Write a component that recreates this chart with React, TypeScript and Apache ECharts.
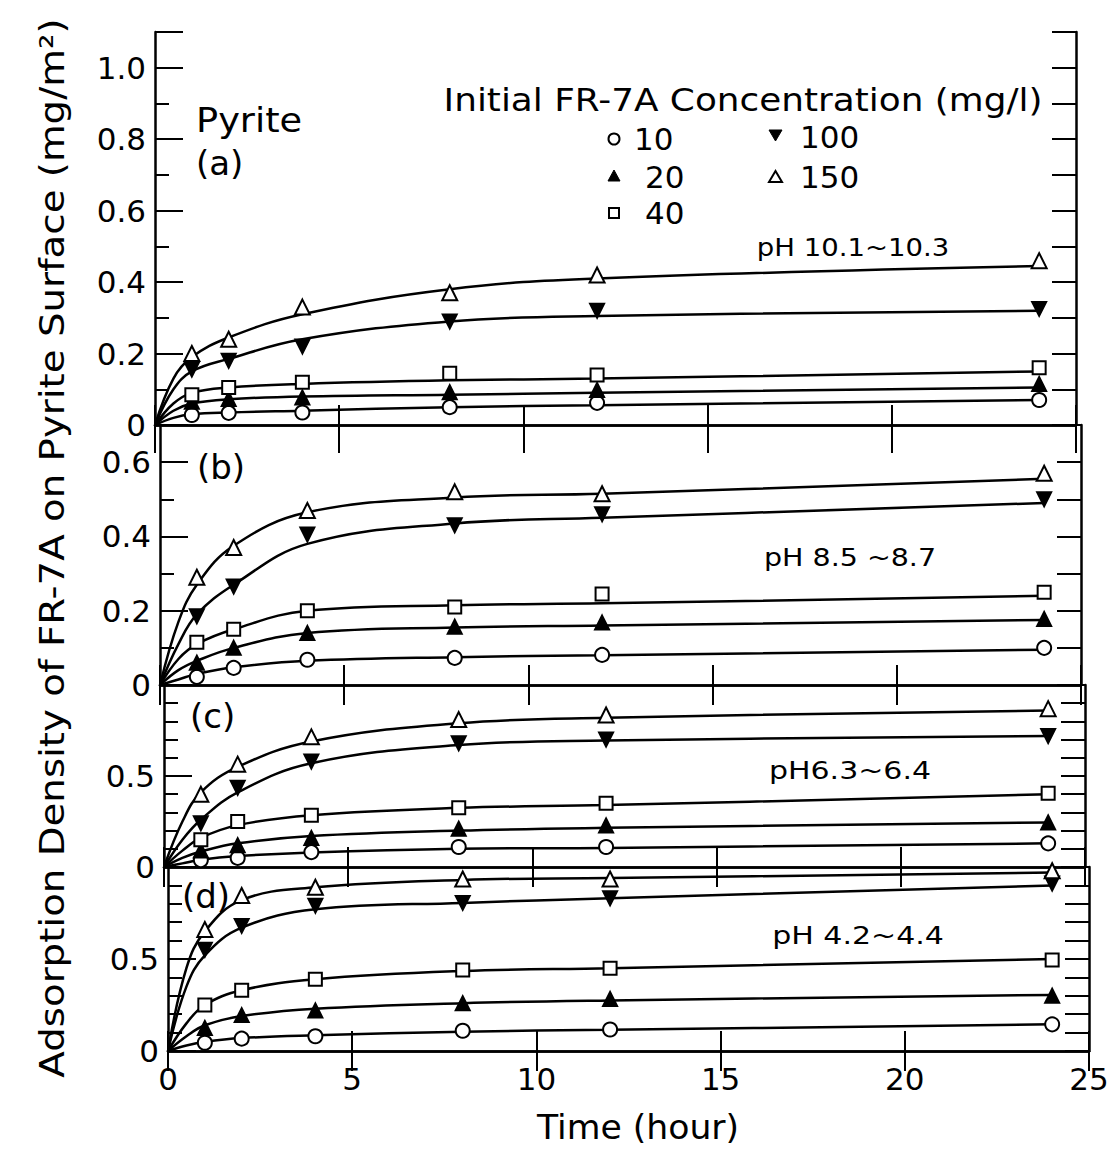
import React, { useEffect, useRef } from "react";
import * as echarts from "echarts";

// ---------- data ----------
const times = [1, 2, 4, 8, 12, 24];            // measurement times (hour)
const curveTimes = [0, 0.5, 1, 2, 4, 8, 12, 24]; // where the drawn fitted curves were read
const concentrations = ["10", "20", "40", "100", "150"];
const panelLabels = ["(a)", "(b)", "(c)", "(d)"];
const phLabels = ["pH 10.1~10.3", "pH 8.5 ~8.7", "pH6.3~6.4", "pH 4.2~4.4"];
const xTickStep = 5;
const yMax = [1.1, 0.7, 1.0, 1.0];
const yLabelStep = [0.2, 0.2, 0.5, 0.5];

// measured points
// panel (a) pH 10.1~10.3
const a10 = [0.028, 0.034, 0.035, 0.05, 0.062, 0.07];
const a20 = [0.065, 0.073, 0.077, 0.092, 0.098, 0.115];
const a40 = [0.085, 0.105, 0.12, 0.145, 0.14, 0.16];
const a100 = [0.155, 0.18, 0.22, 0.29, 0.32, 0.325];
const a150 = [0.2, 0.24, 0.33, 0.37, 0.42, 0.46];
// panel (b) pH 8.5~8.7
const b10 = [0.022, 0.046, 0.068, 0.073, 0.081, 0.1];
const b20 = [0.06, 0.1, 0.14, 0.157, 0.168, 0.178];
const b40 = [0.115, 0.15, 0.2, 0.21, 0.245, 0.25];
const b100 = [0.185, 0.265, 0.405, 0.43, 0.46, 0.5];
const b150 = [0.29, 0.37, 0.47, 0.52, 0.515, 0.57];
// panel (c) pH 6.3~6.4
const c10 = [0.038, 0.05, 0.082, 0.11, 0.11, 0.13];
const c20 = [0.09, 0.12, 0.16, 0.21, 0.228, 0.245];
const c40 = [0.15, 0.25, 0.285, 0.325, 0.35, 0.405];
const c100 = [0.24, 0.435, 0.58, 0.68, 0.7, 0.72];
const c150 = [0.4, 0.565, 0.715, 0.81, 0.835, 0.87];
// panel (d) pH 4.2~4.4
const d10 = [0.045, 0.067, 0.08, 0.11, 0.117, 0.145];
const d20 = [0.125, 0.195, 0.22, 0.26, 0.283, 0.3];
const d40 = [0.25, 0.33, 0.39, 0.44, 0.45, 0.495];
const d100 = [0.55, 0.68, 0.79, 0.805, 0.83, 0.91];
const d150 = [0.66, 0.845, 0.89, 0.935, 0.935, 0.98];

// fitted curves as drawn (read at curveTimes)
const fa10 = [0, 0.02, 0.03, 0.035, 0.04, 0.05, 0.055, 0.07];
const fa20 = [0, 0.04, 0.06, 0.072, 0.08, 0.085, 0.09, 0.105];
const fa40 = [0, 0.06, 0.09, 0.105, 0.115, 0.125, 0.13, 0.15];
const fa100 = [0, 0.1, 0.15, 0.185, 0.24, 0.29, 0.305, 0.32];
const fa150 = [0, 0.13, 0.19, 0.245, 0.31, 0.38, 0.41, 0.445];
const fb10 = [0, 0.015, 0.03, 0.048, 0.065, 0.075, 0.08, 0.095];
const fb20 = [0, 0.04, 0.065, 0.1, 0.14, 0.155, 0.16, 0.175];
const fb40 = [0, 0.07, 0.11, 0.15, 0.2, 0.215, 0.22, 0.24];
const fb100 = [0, 0.11, 0.19, 0.27, 0.38, 0.435, 0.45, 0.49];
const fb150 = [0, 0.17, 0.27, 0.375, 0.465, 0.505, 0.515, 0.555];
const fc10 = [0, 0.02, 0.04, 0.06, 0.08, 0.1, 0.105, 0.13];
const fc20 = [0, 0.05, 0.085, 0.13, 0.17, 0.2, 0.215, 0.245];
const fc40 = [0, 0.09, 0.16, 0.23, 0.285, 0.325, 0.34, 0.4];
const fc100 = [0, 0.15, 0.26, 0.41, 0.57, 0.67, 0.695, 0.72];
const fc150 = [0, 0.25, 0.41, 0.55, 0.69, 0.79, 0.82, 0.86];
const fd10 = [0, 0.03, 0.05, 0.07, 0.085, 0.105, 0.115, 0.145];
const fd20 = [0, 0.08, 0.14, 0.19, 0.23, 0.26, 0.275, 0.305];
const fd40 = [0, 0.15, 0.25, 0.33, 0.39, 0.435, 0.45, 0.5];
const fd100 = [0, 0.35, 0.52, 0.67, 0.77, 0.805, 0.83, 0.9];
const fd150 = [0, 0.45, 0.65, 0.82, 0.89, 0.93, 0.94, 0.97];

const panels = [
  [a10, a20, a40, a100, a150],
  [b10, b20, b40, b100, b150],
  [c10, c20, c40, c100, c150],
  [d10, d20, d40, d100, d150],
];
const curves = [
  [fa10, fa20, fa40, fa100, fa150],
  [fb10, fb20, fb40, fb100, fb150],
  [fc10, fc20, fc40, fc100, fc150],
  [fd10, fd20, fd40, fd100, fd150],
];

// ---------- styling / layout ----------
const FONT = "DejaVu Sans";
const gridLeft = [155, 160, 164, 168];
const gridTop = [32, 425, 685, 867];
const gridHeight = [393, 260, 182, 184];
const gridWidth = 921;
const phPos = [[853, 247, 1.1], [850, 557, 1.14], [850, 770, 1.2], [858, 935, 1.2]];

const markerStyle = [
  { symbol: "circle", rotate: 0, fill: "#fff", size: 14 },
  { symbol: "triangle", rotate: 0, fill: "#000", size: 14 },
  { symbol: "rect", rotate: 0, fill: "#fff", size: 13 },
  { symbol: "triangle", rotate: 180, fill: "#000", size: 14 },
  { symbol: "triangle", rotate: 0, fill: "#fff", size: 15 },
];

function buildOption() {
  const grid: any[] = [];
  const xAxis: any[] = [];
  const yAxis: any[] = [];
  const series: any[] = [];
  const axisLine = { show: true, lineStyle: { color: "#000", width: 2.5 } };

  for (let p = 0; p < 4; p++) {
    grid.push({ left: gridLeft[p], top: gridTop[p], width: gridWidth, height: gridHeight[p] });
    const last = p === 3;
    xAxis.push({
      type: "value", gridIndex: p, position: "bottom", min: 0, max: 25, interval: xTickStep,
      axisLine, splitLine: { show: false },
      axisTick: { show: true, inside: true, length: 20, lineStyle: { color: "#000", width: 2 } },
      axisLabel: { show: last, fontSize: 31, fontFamily: FONT, color: "#000", margin: 12 },
    });
    xAxis.push({
      type: "value", gridIndex: p, position: "top", min: 0, max: 25, interval: xTickStep,
      axisLine, splitLine: { show: false },
      axisTick: { show: true, inside: true, length: p === 0 ? 28 : 20, lineStyle: { color: "#000", width: 2 } },
      axisLabel: { show: false },
    });
    const mx = yMax[p];
    const step = yLabelStep[p];
    yAxis.push({
      type: "value", gridIndex: p, position: "left", min: 0, max: mx, interval: step,
      axisLine, splitLine: { show: false },
      axisTick: { show: true, inside: true, length: 28, lineStyle: { color: "#000", width: 2 } },
      axisLabel: {
        fontSize: 31, fontFamily: FONT, color: "#000", margin: 9,
        formatter: (v: number) => {
          if (Math.abs(v) < 1e-9) return "0";
          if (v > mx - 1e-6) return p === 0 && Math.abs(v - 1.0) < 1e-6 ? "1.0" : "";
          const r = Math.round(v / step);
          if (Math.abs(v - r * step) > 1e-6) return "";
          return v.toFixed(1);
        },
      },
    });
    yAxis.push({
      type: "value", gridIndex: p, position: "left", min: 0, max: mx, interval: 0.1,
      axisLine: { show: false }, splitLine: { show: false },
      axisTick: { show: true, inside: true, length: 14, lineStyle: { color: "#000", width: 2 } },
      axisLabel: { show: false },
    });
    yAxis.push({
      type: "value", gridIndex: p, position: "right", min: 0, max: mx, interval: 0.1,
      axisLine, splitLine: { show: false },
      axisTick: { show: true, inside: true, length: 24, lineStyle: { color: "#000", width: 2 } },
      axisLabel: { show: false },
    });

    curves[p].forEach((vals, c) => {
      series.push({
        type: "line",
        name: concentrations[c] + " fit",
        xAxisIndex: 2 * p,
        yAxisIndex: 3 * p,
        smooth: 0.4,
        showSymbol: false,
        symbol: "none",
        lineStyle: { color: "#000", width: 2.5 },
        emphasis: { disabled: true },
        silent: true,
        z: 2,
        data: curveTimes.map((t, k) => [t, vals[k]]),
      });
    });
    panels[p].forEach((vals, c) => {
      const m = markerStyle[c];
      series.push({
        type: "scatter",
        name: concentrations[c],
        xAxisIndex: 2 * p,
        yAxisIndex: 3 * p,
        symbol: m.symbol,
        symbolSize: m.size,
        symbolRotate: m.rotate,
        itemStyle: { color: m.fill, borderColor: "#000", borderWidth: 2, opacity: 1 },
        emphasis: { disabled: true },
        z: 3,
        data: times.map((t, k) => [t, vals[k]]),
      });
    });
  }

  const txt = (text: string, x: number, y: number, fontSize: number, align = "left", extra: any = {}) => ({
    type: "text", x, y, ...extra,
    style: { text, fontSize, fontFamily: FONT, fill: "#000", align, verticalAlign: "middle" },
  });

  const graphic: any[] = [
    txt("Adsorption Density of FR-7A on Pyrite Surface (mg/m²)", 52, 548, 34, "center", { rotation: Math.PI / 2, scaleX: 1.14 }),
    txt("Time (hour)", 638, 1128, 33, "center", { scaleX: 1.05 }),
    txt("Initial FR-7A Concentration (mg/l)", 743, 100, 32, "center", { scaleX: 1.12 }),
    txt("Pyrite", 196, 120, 34, "left", { scaleX: 1.08 }),
    txt(panelLabels[0], 196, 163, 34),
    txt(panelLabels[1], 197, 467, 34),
    txt(panelLabels[2], 190, 716, 34),
    txt(panelLabels[3], 182, 896, 34),
    ...phLabels.map((t, i) => txt(t, phPos[i][0], phPos[i][1], 25, "center", { scaleX: phPos[i][2] })),
    // legend entries
    { type: "circle", shape: { cx: 614, cy: 139, r: 5.5 }, style: { fill: "#fff", stroke: "#000", lineWidth: 2 } },
    txt(concentrations[0], 634, 139, 31),
    { type: "polygon", shape: { points: [[614, 170], [608, 181], [620, 181]] }, style: { fill: "#000", stroke: "#000", lineWidth: 1 } },
    txt(concentrations[1], 645, 177, 31),
    { type: "rect", shape: { x: 609, y: 208, width: 10, height: 10 }, style: { fill: "#fff", stroke: "#000", lineWidth: 2 } },
    txt(concentrations[2], 645, 213, 31),
    { type: "polygon", shape: { points: [[769, 130], [782, 130], [775.5, 141]] }, style: { fill: "#000", stroke: "#000", lineWidth: 1 } },
    txt(concentrations[3], 800, 137, 31),
    { type: "polygon", shape: { points: [[775.5, 171], [769, 182], [782, 182]] }, style: { fill: "#fff", stroke: "#000", lineWidth: 2 } },
    txt(concentrations[4], 800, 177, 31),
  ];

  return {
    animation: false,
    backgroundColor: "#fff",
    grid,
    xAxis,
    yAxis,
    series,
    graphic,
  };
}

export default function App() {
  const ref = useRef<HTMLDivElement>(null);
  useEffect(() => {
    if (!ref.current) return;
    const chart = echarts.init(ref.current, undefined, { renderer: "svg" });
    chart.setOption(buildOption() as any);
    return () => chart.dispose();
  }, []);
  return (
    <div
      ref={ref}
      style={{ position: "fixed", left: 0, top: 0, width: 1113, height: 1154, background: "#fff" }}
    />
  );
}
